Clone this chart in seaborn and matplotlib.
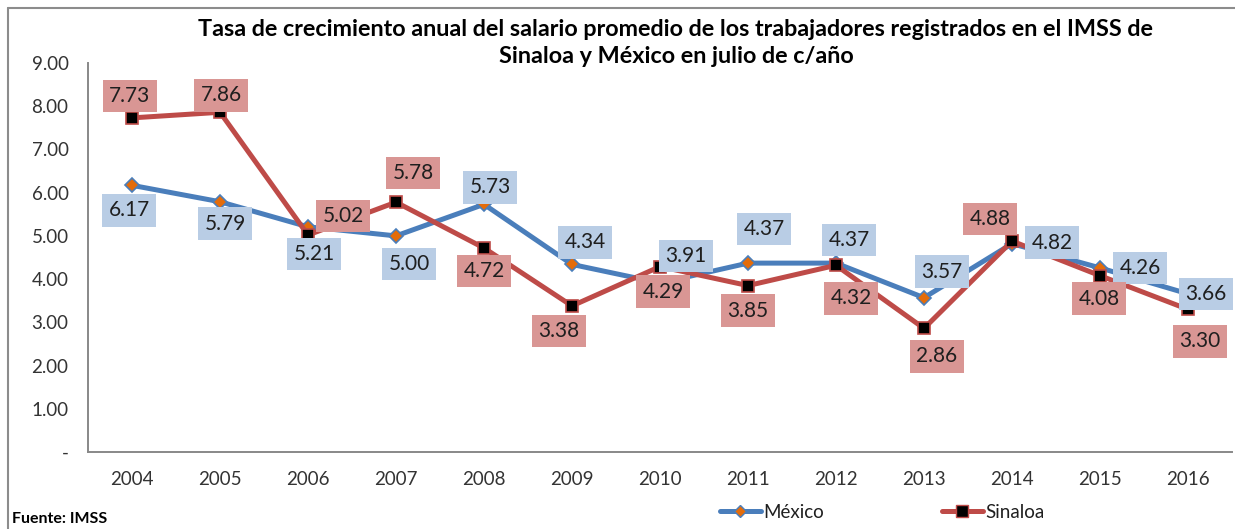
import matplotlib
matplotlib.use("Agg")
import matplotlib.pyplot as plt
import seaborn as sns
import pandas as pd
import numpy as np
from matplotlib.lines import Line2D

years = ["2004", "2005", "2006", "2007", "2008", "2009", "2010",
         "2011", "2012", "2013", "2014", "2015", "2016"]
mexico = [6.17, 5.79, 5.21, 5.00, 5.73, 4.34, 3.91, 4.37, 4.37, 3.57, 4.82, 4.26, 3.66]
sinaloa = [7.73, 7.86, 5.02, 5.78, 4.72, 3.38, 4.29, 3.85, 4.32, 2.86, 4.88, 4.08, 3.30]
yticks = [0, 1, 2, 3, 4, 5, 6, 7, 8, 9]

title = ("Tasa de crecimiento anual del salario promedio de los trabajadores registrados en el IMSS de\n"
         "Sinaloa y México en julio de c/año")

# label offsets in pixels (dx, dy up-positive)
mex_off = [(-3, -25), (5, -22), (6, -27), (13, -28), (6, 17), (13, 22), (26, 27),
           (16, 34), (13, 23), (18, 26), (40, 1), (40, 0), (18, 0)]
sin_off = [(-2, 22), (1, 17), (35, 19), (17, 29), (0, -23), (-13, -25), (3, -25),
           (0, -25), (15, -33), (13, -28), (-22, 22), (-1, -23), (12, -32)]

sns.set_style("white")
plt.rcParams["font.family"] = ["Lato", "DejaVu Sans"]

BLUE = "#4A7EBB"
RED = "#BE4B48"
BLUE_BOX = "#B9CDE5"
RED_BOX = "#D99694"
TXT = "#1F1F1F"

fig = plt.figure(figsize=(12.35, 5.29), dpi=100)
ax = fig.add_axes([88 / 1235, 1 - 452 / 529, (1232 - 88) / 1235, (452 - 63) / 529])

df = pd.DataFrame({"x": np.arange(len(years)), "México": mexico, "Sinaloa": sinaloa})

sns.lineplot(data=df, x="x", y="México", ax=ax, color=BLUE, lw=3.6,
             marker="D", markersize=7, markerfacecolor="#E46C0A",
             markeredgecolor=BLUE, markeredgewidth=1.2, zorder=3)
sns.lineplot(data=df, x="x", y="Sinaloa", ax=ax, color=RED, lw=3.6,
             marker="s", markersize=8, markerfacecolor="black",
             markeredgecolor=RED, markeredgewidth=1.2, zorder=4)

for i, v in enumerate(mexico):
    dx, dy = mex_off[i]
    ax.annotate(f"{v:.2f}", (i, v), xytext=(dx, dy), textcoords="offset pixels",
                ha="center", va="center", fontsize=15, color=TXT, zorder=6,
                bbox=dict(boxstyle="square,pad=0.3", fc=BLUE_BOX, ec="none"))
for i, v in enumerate(sinaloa):
    dx, dy = sin_off[i]
    ax.annotate(f"{v:.2f}", (i, v), xytext=(dx, dy), textcoords="offset pixels",
                ha="center", va="center", fontsize=15, color=TXT, zorder=6,
                bbox=dict(boxstyle="square,pad=0.3", fc=RED_BOX, ec="none"))

ax.set_xlim(-0.5, len(years) - 0.5)
ax.set_ylim(0, 9)
ax.set_yticks(yticks)
ax.set_yticklabels(["-" if t == 0 else f"{t:.2f}" for t in yticks])
ax.set_xticks(np.arange(len(years)))
ax.set_xticklabels(years)
ax.set_xticks(np.arange(-0.5, len(years), 1), minor=True)
ax.tick_params(axis="x", which="major", length=0, pad=14, labelsize=13.5, labelcolor="#333333")
ax.tick_params(axis="x", which="minor", length=6, width=1.3, color="#888888", direction="out")
ax.tick_params(axis="y", length=6, width=1.3, color="#888888", direction="out",
               pad=8, labelsize=13.5, labelcolor="#333333")
ax.set_xlabel("")
ax.set_ylabel("")
for s in ["top", "right"]:
    ax.spines[s].set_visible(False)
for s in ["left", "bottom"]:
    ax.spines[s].set_color("#888888")
    ax.spines[s].set_linewidth(1.4)

fig.text(676 / 1235, 1 - 43 / 529, title, ha="center", va="center",
         fontsize=16.8, fontweight="bold", color="black", linespacing=1.3)
fig.text(12 / 1235, 1 - 519 / 529, "Fuente: IMSS", ha="left", va="center",
         fontsize=11.5, fontweight="bold", color="black")

handles = [
    Line2D([], [], color=BLUE, lw=3.6, marker="D", markersize=6,
           markerfacecolor="#E46C0A", markeredgecolor=BLUE),
    Line2D([], [], color=RED, lw=3.6, marker="s", markersize=8,
           markerfacecolor="black", markeredgecolor=RED),
]
fig.legend(handles, ["México", "Sinaloa"], loc="center", ncol=2,
           bbox_to_anchor=(882 / 1235, 1 - 512 / 529), frameon=False,
           fontsize=13.5, handlelength=2.2, handletextpad=0.1, columnspacing=6.3,
           labelcolor="#1F1F1F")

# outer frame (top and left visible)
fig.add_artist(Line2D([8 / 1235, 1.0], [1 - 8 / 529, 1 - 8 / 529],
                      transform=fig.transFigure, color="#8C8C8C", lw=1.5))
fig.add_artist(Line2D([8 / 1235, 8 / 1235], [0.0, 1 - 8 / 529],
                      transform=fig.transFigure, color="#8C8C8C", lw=1.5))

fig.savefig("out.png", dpi=100)
